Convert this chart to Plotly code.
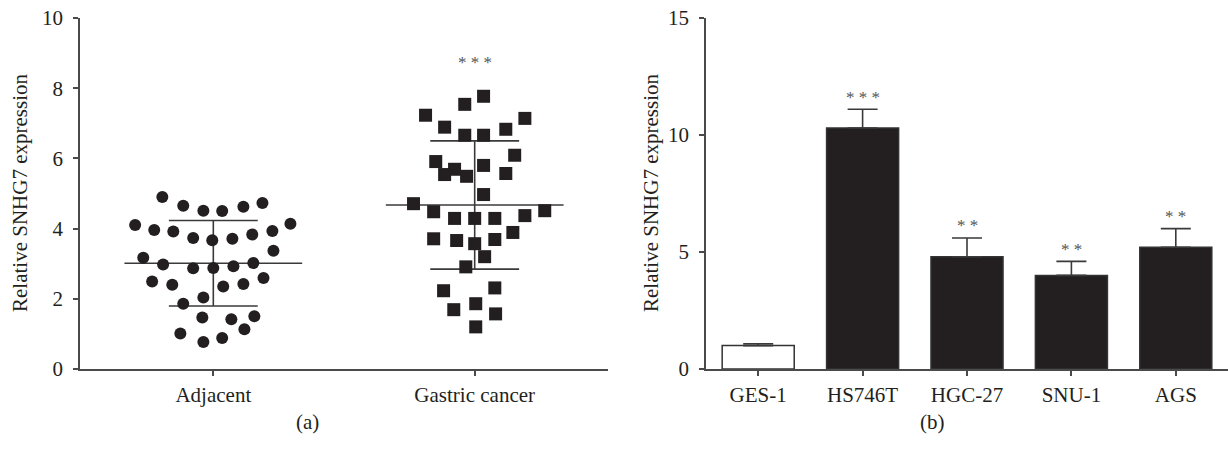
import numpy as np
import plotly.graph_objects as go

# ---- panel (a): individual samples ----
groups = ["Adjacent", "Gastric cancer"]

adjacent_values = [4.90, 4.65, 4.51, 4.50, 4.62, 4.73,
                   4.10, 3.96, 3.92, 3.73, 3.67, 3.71, 3.83, 3.93, 4.14,
                   3.17, 3.37,
                   2.98, 2.87, 2.88, 2.93, 3.02,
                   2.49, 2.40, 2.35, 2.42, 2.59,
                   1.86, 2.04,
                   1.47, 1.42, 1.50,
                   1.01, 0.77, 0.88, 1.13]
# horizontal spread of each sample within its column (category units)
adjacent_offsets = [-0.195, -0.115, -0.038, 0.034, 0.115, 0.188,
                    -0.299, -0.226, -0.153, -0.077, -0.004, 0.073, 0.149, 0.226, 0.295,
                    -0.268, 0.230,
                    -0.192, -0.077, 0.000, 0.077, 0.153,
                    -0.234, -0.157, 0.038, 0.115, 0.192,
                    -0.115, -0.038,
                    -0.042, 0.069, 0.157,
                    -0.126, -0.038, 0.034, 0.119]

gastric_values = [7.23, 6.89, 7.54, 7.77, 6.66, 6.66, 6.83, 7.14,
                  5.91, 5.69, 5.54, 5.49, 5.80, 6.09, 5.57,
                  4.97, 4.71, 4.48, 4.29, 4.29, 4.29, 4.37, 4.51,
                  3.71, 3.66, 3.57, 3.69, 3.89,
                  3.20, 2.91,
                  2.23, 2.31, 1.86, 1.69, 1.57, 1.20]
gastric_offsets = [-0.188, -0.115, -0.038, 0.034, -0.038, 0.034, 0.119, 0.192,
                   -0.149, -0.077, -0.115, -0.031, 0.034, 0.153, 0.119,
                   0.034, -0.234, -0.157, -0.077, 0.000, 0.077, 0.192, 0.268,
                   -0.157, -0.069, 0.000, 0.077, 0.146,
                   0.038, -0.034,
                   -0.119, 0.077, 0.004, -0.080, 0.080, 0.004]

# ---- panel (b): cell lines ----
cell_lines = ["GES-1", "HS746T", "HGC-27", "SNU-1", "AGS"]
cell_means = [1.0, 10.3, 4.8, 4.0, 5.2]
cell_errors = [0.08, 0.8, 0.8, 0.6, 0.8]
cell_stars = ["", "* * *", "* *", "* *", "* *"]

INK = "#231f20"
AXIS = "#4a4a4a"
STAR = "#555555"
FONT = "Liberation Serif"
FS = 21

fig = go.Figure()

# mean and SD whiskers for each group
for gi, vals in enumerate([adjacent_values, gastric_values]):
    v = np.array(vals)
    m, s = v.mean(), v.std(ddof=1)
    xs = [gi - 0.34, gi + 0.34, None,
          gi - 0.17, gi + 0.17, None,
          gi - 0.17, gi + 0.17, None,
          gi, gi]
    ys = [m, m, None,
          m + s, m + s, None,
          m - s, m - s, None,
          m - s, m + s]
    fig.add_trace(go.Scatter(x=xs, y=ys, mode="lines",
                             line=dict(color="#3a3a3a", width=1.6),
                             hoverinfo="skip", showlegend=False,
                             xaxis="x", yaxis="y"))

fig.add_trace(go.Scatter(
    x=[0 + o for o in adjacent_offsets], y=adjacent_values, mode="markers",
    marker=dict(symbol="circle", size=12, color=INK, line=dict(width=0)),
    showlegend=False, xaxis="x", yaxis="y"))
fig.add_trace(go.Scatter(
    x=[1 + o for o in gastric_offsets], y=gastric_values, mode="markers",
    marker=dict(symbol="square", size=13, color=INK, line=dict(width=0)),
    showlegend=False, xaxis="x", yaxis="y"))

# bars with upward SD whiskers
fig.add_trace(go.Bar(
    x=cell_lines, y=cell_means,
    marker=dict(color=["#ffffff"] + [INK] * 4,
                line=dict(color="#333333", width=1.5)),
    error_y=dict(type="data", symmetric=False, array=cell_errors,
                 arrayminus=[0] * len(cell_errors),
                 color="#3a3a3a", thickness=1.6, width=15),
    showlegend=False, xaxis="x2", yaxis="y2"))

annotations = []
annotations.append(dict(x=1, y=max(gastric_values) + 0.97, xref="x", yref="y",
                        text="* * *", showarrow=False,
                        font=dict(family=FONT, size=17, color=STAR)))
for name, m, e, st in zip(cell_lines, cell_means, cell_errors, cell_stars):
    if st:
        annotations.append(dict(x=name, y=m + e, xref="x2", yref="y2",
                                text=st, showarrow=False, yanchor="middle",
                                yshift=12,
                                font=dict(family=FONT, size=17, color=STAR)))

ytitle = "Relative SNHG7 expression"
annotations += [
    dict(x=20 / 1228, y=1 - 193 / 449, xref="paper", yref="paper", text=ytitle,
         textangle=-90, showarrow=False, xanchor="center", yanchor="middle",
         font=dict(family=FONT, size=FS, color=INK)),
    dict(x=651 / 1228, y=1 - 193 / 449, xref="paper", yref="paper", text=ytitle,
         textangle=-90, showarrow=False, xanchor="center", yanchor="middle",
         font=dict(family=FONT, size=FS, color=INK)),
    dict(x=307 / 1228, y=1 - 422 / 449, xref="paper", yref="paper", text="(a)",
         showarrow=False, xanchor="center", yanchor="middle",
         font=dict(family=FONT, size=FS, color=INK)),
    dict(x=932 / 1228, y=1 - 422 / 449, xref="paper", yref="paper", text="(b)",
         showarrow=False, xanchor="center", yanchor="middle",
         font=dict(family=FONT, size=FS, color=INK)),
]

axis_common = dict(showline=True, linecolor=AXIS, linewidth=1.5,
                   ticks="outside", ticklen=5, tickwidth=1.5, tickcolor=AXIS,
                   showgrid=False, zeroline=False, automargin=False,
                   tickfont=dict(family=FONT, size=FS, color=INK))

ydom = [80 / 449, 431 / 449]

fig.update_layout(
    width=1228, height=449,
    margin=dict(l=0, r=0, t=0, b=0),
    paper_bgcolor="white", plot_bgcolor="white",
    bargap=0.31,
    xaxis=dict(domain=[80 / 1228, 608 / 1228], range=[-0.51, 1.51],
               tickvals=[0, 1], ticktext=groups, anchor="y",
               ticklabelstandoff=1, **axis_common),
    yaxis=dict(domain=ydom, range=[0, 10], tickvals=[0, 2, 4, 6, 8, 10],
               anchor="x", ticklabelstandoff=6, **axis_common),
    xaxis2=dict(domain=[706 / 1228, 1.0], range=[-0.5, 4.5], anchor="y2",
                type="category", ticklabelstandoff=1, **axis_common),
    yaxis2=dict(domain=ydom, range=[0, 15], tickvals=[0, 5, 10, 15],
                anchor="x2", ticklabelstandoff=6, **axis_common),
    annotations=annotations,
)

fig.write_html("out.html")
